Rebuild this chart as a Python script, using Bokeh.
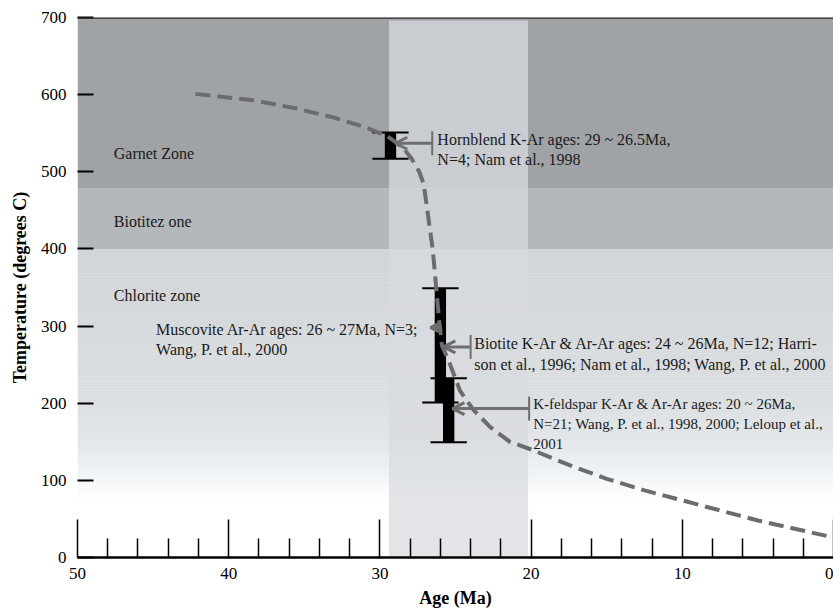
import numpy as np
from bokeh.plotting import figure
from bokeh.models import Range1d, FixedTicker, Arrow, OpenHead, TeeHead, ColumnDataSource, Span
from bokeh.core.properties import value
from bokeh.embed import file_html
from bokeh.resources import INLINE

# ---------------- data ----------------
# metamorphic zones (temperature bounds, degrees C)
zone_names = ["Garnet Zone", "Biotitez one", "Chlorite zone"]
zone_bottom = [478, 400, 0]
zone_top = [700, 478, 400]
zone_label_y = [524, 436, 340]
zone_label_x = [47.6, 47.6, 47.6]

# highlighted age window (Ma)
band_left = [29.4]
band_right = [20.2]
band_bottom = [0]
band_top = [696]

# cooling path (dashed curve)
curve_age = [42.2, 38.5, 35.5, 33, 31, 29.5, 28.5, 27.9, 27.4, 27.1, 26.8, 26.5, 26.3,
             26.1, 25.9, 25.45, 24.7, 23.8, 22.7, 21.4, 20, 17.5, 15, 12.5, 10, 7.5, 5, 2.5, 0]
curve_temp = [601, 593, 582, 570, 558, 546, 532, 517, 500, 484, 441, 398, 355,
              311, 275, 255, 216, 191, 169, 150, 140, 120, 102, 87, 74, 61, 48, 37, 26]

# mineral closure-temperature bars
minerals = ["Hornblende", "Biotite", "K-feldspar"]
bar_age = [29.3, 26.0, 25.45]
bar_low = [517, 201, 149.5]
bar_high = [551, 349, 232.5]

# annotation arrows (tail with bar -> head at mineral)
arrow_tail_x = [26.54, 24.0, 20.13]
arrow_head_x = [28.98, 25.8, 25.2]
arrow_y = [537, 273, 193]
musc_tail_x = [25.95]
musc_head_x = [26.65]
musc_y = [298]

notes = [
    "Hornblend K-Ar ages: 29 ~ 26.5Ma,\nN=4; Nam et al., 1998",
    "Muscovite Ar-Ar ages: 26 ~ 27Ma, N=3;\nWang, P. et al., 2000",
    "Biotite K-Ar & Ar-Ar ages: 24 ~ 26Ma, N=12; Harri-\nson et al., 1996; Nam et al., 1998; Wang, P. et al., 2000",
]
note_x = [26.2, 44.8, 23.76]
note_y = [553.5, 307, 288]

kfs_note = ["K-feldspar K-Ar & Ar-Ar ages: 20 ~ 26Ma,\nN=21; Wang, P. et al., 1998, 2000; Leloup et al.,\n2001"]
kfs_note_x = [19.86]
kfs_note_y = [210]

x_major = [0, 10, 20, 30, 40, 50]
x_minor = [2, 4, 6, 8, 12, 14, 16, 18, 22, 24, 26, 28, 32, 34, 36, 38, 42, 44, 46, 48]
y_major = [0, 100, 200, 300, 400, 500, 600, 700]

# ---------------- figure ----------------
SERIF = "Liberation Serif, Times New Roman, Times, DejaVu Serif, serif"
p = figure(width=833, height=613, x_range=Range1d(50, 0), y_range=Range1d(0, 700),
           output_backend="svg", toolbar_location=None,
           min_border_left=77, min_border_right=0, min_border_top=17, min_border_bottom=56,
           background_fill_color="white", border_fill_color="white", outline_line_color=None)
p.grid.visible = False

# zone backgrounds
def grey(g):
    g = int(round(g))
    t = 3 if g < 245 else int(round((255 - g) * 0.3))
    return "#%02x%02x%02x" % (max(0, g - t), g, min(255, g + t))

p.quad(left=50, right=0, bottom=zone_bottom[0], top=zone_top[0], fill_color=grey(163), line_color=None)
p.quad(left=50, right=0, bottom=zone_bottom[1], top=zone_top[1], fill_color=grey(184), line_color=None)

# chlorite zone: vertical gradient to white
edges = np.arange(zone_bottom[2], zone_top[2] + 1, 4.0)
mids = (edges[:-1] + edges[1:]) / 2
stops_t = [0, 70, 90, 120, 150, 200, 300, 400]
stops_g = [255, 255, 250, 240, 231, 224, 218, 213]
cols = [grey(g) for g in np.interp(mids, stops_t, stops_g)]
p.quad(left=50, right=0, bottom=edges[:-1], top=np.minimum(edges[1:] + 0.6, zone_top[2]),
       fill_color=cols, line_color=None)

# highlighted age window
p.quad(left=band_left, right=band_right, bottom=band_bottom, top=band_top,
       fill_color="#d8dbde", fill_alpha=0.74, line_color=None)

# zone labels
p.text(x=zone_label_x, y=zone_label_y, text=zone_names, text_font=value(SERIF),
       text_font_size=value("16px"), text_color="#1a1a1a", text_baseline="middle", text_align="left")

# mineral bars with caps
p.vbar(x=bar_age, width=0.75, bottom=bar_low, top=bar_high, fill_color="black", line_color=None)
cap_x0 = [a + 1.2 for a in bar_age]
cap_x1 = [a - 1.2 for a in bar_age]
p.segment(x0=cap_x0, x1=cap_x1, y0=bar_high, y1=bar_high, line_color="black", line_width=2)
p.segment(x0=cap_x0, x1=cap_x1, y0=bar_low, y1=bar_low, line_color="black", line_width=2)

# cooling curve
p.line(curve_age, curve_temp, line_color="#6b6c6f", line_width=4, line_dash="15 7")

# arrows
ARROW_C = "#6d6e71"
src = ColumnDataSource(dict(xs=arrow_tail_x, xe=arrow_head_x, y=arrow_y))
p.add_layout(Arrow(x_start="xs", y_start="y", x_end="xe", y_end="y", source=src,
                   line_color=ARROW_C, line_width=3,
                   start=TeeHead(size=24, line_color=ARROW_C, line_width=2),
                   end=OpenHead(size=12, line_color=ARROW_C, line_width=3)))
src2 = ColumnDataSource(dict(xs=musc_tail_x, xe=musc_head_x, y=musc_y))
p.add_layout(Arrow(x_start="xs", y_start="y", x_end="xe", y_end="y", source=src2,
                   line_color=ARROW_C, line_width=3,
                   end=OpenHead(size=8, line_color=ARROW_C, line_width=3)))

# notes
p.text(x=note_x, y=note_y, text=notes, text_font=value(SERIF), text_font_size=value("16px"),
       text_color="#1a1a1a", text_baseline="top", text_align="left", text_line_height=1.2)
p.text(x=kfs_note_x, y=kfs_note_y, text=kfs_note, text_font=value(SERIF), text_font_size=value("15px"),
       text_color="#1a1a1a", text_baseline="top", text_align="left", text_line_height=1.25)

# top frame line
p.add_layout(Span(location=700, dimension="width", line_color="#2b2b2b", line_width=2.5))

# axes
xa = p.xaxis[0]
xa.ticker = FixedTicker(ticks=x_major, minor_ticks=x_minor)
xa.axis_label = "Age (Ma)"
xa.axis_line_color = "black"
xa.axis_line_width = 2.5
xa.major_tick_in = 38
xa.major_tick_out = 0
xa.minor_tick_in = 19
xa.minor_tick_out = 0
xa.major_tick_line_color = "black"
xa.minor_tick_line_color = "black"
xa.major_tick_line_width = 1.5
xa.minor_tick_line_width = 1.5
xa.major_label_standoff = 10
xa.axis_label_standoff = 6

ya = p.yaxis[0]
ya.ticker = FixedTicker(ticks=y_major)
ya.axis_label = "Temperature (degrees C)"
ya.axis_line_color = None
ya.major_tick_in = 16
ya.major_tick_out = 0
ya.minor_tick_in = 0
ya.minor_tick_out = 0
ya.major_tick_line_color = "black"
ya.major_tick_line_width = 2
ya.major_label_standoff = 11
ya.axis_label_standoff = 8

for ax in (xa, ya):
    ax.major_label_text_font = SERIF
    ax.major_label_text_font_size = "17px"
    ax.major_label_text_color = "black"
    ax.axis_label_text_font = SERIF
    ax.axis_label_text_font_size = "18px"
    ax.axis_label_text_font_style = "bold"
    ax.axis_label_text_color = "black"

open("out.html", "w").write(file_html(p, INLINE))
